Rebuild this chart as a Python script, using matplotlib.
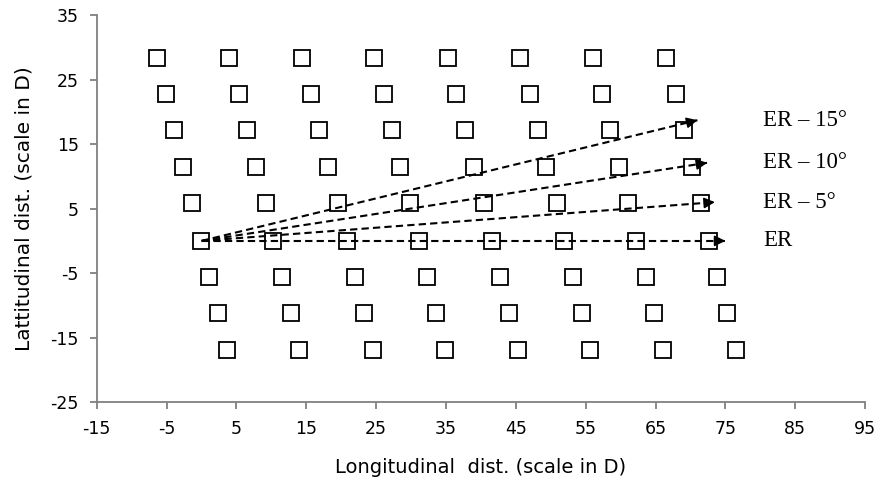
import numpy as np
import matplotlib.pyplot as plt

plt.rcParams['axes.unicode_minus'] = False

# row latitudes (scale in D)
row_y = [28.3, 22.7, 17.2, 11.4, 5.8, 0.0, -5.6, -11.2, -16.9]

# longitudinal positions of the squares, one list per row
row_x = [
    [-6.4, 3.9, 14.4, 24.7, 35.3, 45.6, 56.1, 66.5],
    [-5.1, 5.3, 15.7, 26.1, 36.5, 47.0, 57.3, 67.9],
    [-4.0, 6.5, 16.8, 27.3, 37.7, 48.2, 58.5, 69.1],
    [-2.7, 7.8, 18.1, 28.4, 39.0, 49.3, 59.8, 70.2],
    [-1.4, 9.2, 19.5, 29.8, 40.4, 50.9, 61.1, 71.5],
    [-0.1, 10.2, 20.8, 31.1, 41.6, 51.9, 62.2, 72.7],
    [1.0, 11.5, 22.0, 32.3, 42.7, 53.2, 63.6, 73.8],
    [2.3, 12.8, 23.3, 33.6, 44.0, 54.5, 64.8, 75.3],
    [3.6, 13.9, 24.5, 34.9, 45.3, 55.6, 66.1, 76.5],
]

# arrows from the origin: tip x, tip y, label
arrow_labels = ['ER', 'ER \u2013 5\u00b0', 'ER \u2013 10\u00b0', 'ER \u2013 15\u00b0']
arrow_tip_x = [75.0, 73.5, 72.4, 71.0]
arrow_tip_y = [0.0, 6.0, 12.1, 18.7]
start = (0.0, 0.0)

fig = plt.figure(figsize=(8.8, 4.84), dpi=100)
ax = fig.add_axes([0.110, 0.169, 0.873, 0.800])

for y, xs in zip(row_y, row_x):
    ax.plot(xs, [y] * len(xs), linestyle='none', marker='s', markersize=11,
            markerfacecolor='white', markeredgecolor='black', markeredgewidth=1.3,
            zorder=2)

for lab, tx, ty in zip(arrow_labels, arrow_tip_x, arrow_tip_y):
    ax.plot([start[0], tx], [start[1], ty], color='black', lw=1.5,
            linestyle=(0, (3.5, 2)), zorder=3)
    # solid head at the tip
    d = np.array([tx - start[0], ty - start[1]])
    d = d / np.hypot(*d)
    ax.annotate('', xy=(tx, ty), xytext=(tx - 1.5 * d[0], ty - 1.5 * d[1]),
                arrowprops=dict(arrowstyle='-|>', color='black', lw=1.2,
                                mutation_scale=16, shrinkA=0, shrinkB=0),
                zorder=4)
    ax.text(80.4, ty, lab, fontsize=16.5, family='Liberation Serif',
            va='center', ha='left')

ax.set_xlim(-15, 95)
ax.set_ylim(-25, 35)
ax.set_xticks(np.arange(-15, 96, 10))
ax.set_yticks(np.arange(-25, 36, 10))

for s in ['top', 'right']:
    ax.spines[s].set_visible(False)
for s in ['left', 'bottom']:
    ax.spines[s].set_color('#808080')
    ax.spines[s].set_linewidth(1.3)
ax.tick_params(axis='both', colors='#808080', length=5, width=1.3,
               labelcolor='black', labelsize=12.5, pad=8)

ax.set_xlabel('Longitudinal  dist. (scale in D)', fontsize=14, labelpad=14)
ax.set_ylabel('Lattitudinal dist. (scale in D)', fontsize=14.5, labelpad=12)

fig.savefig('out.png', dpi=100)
